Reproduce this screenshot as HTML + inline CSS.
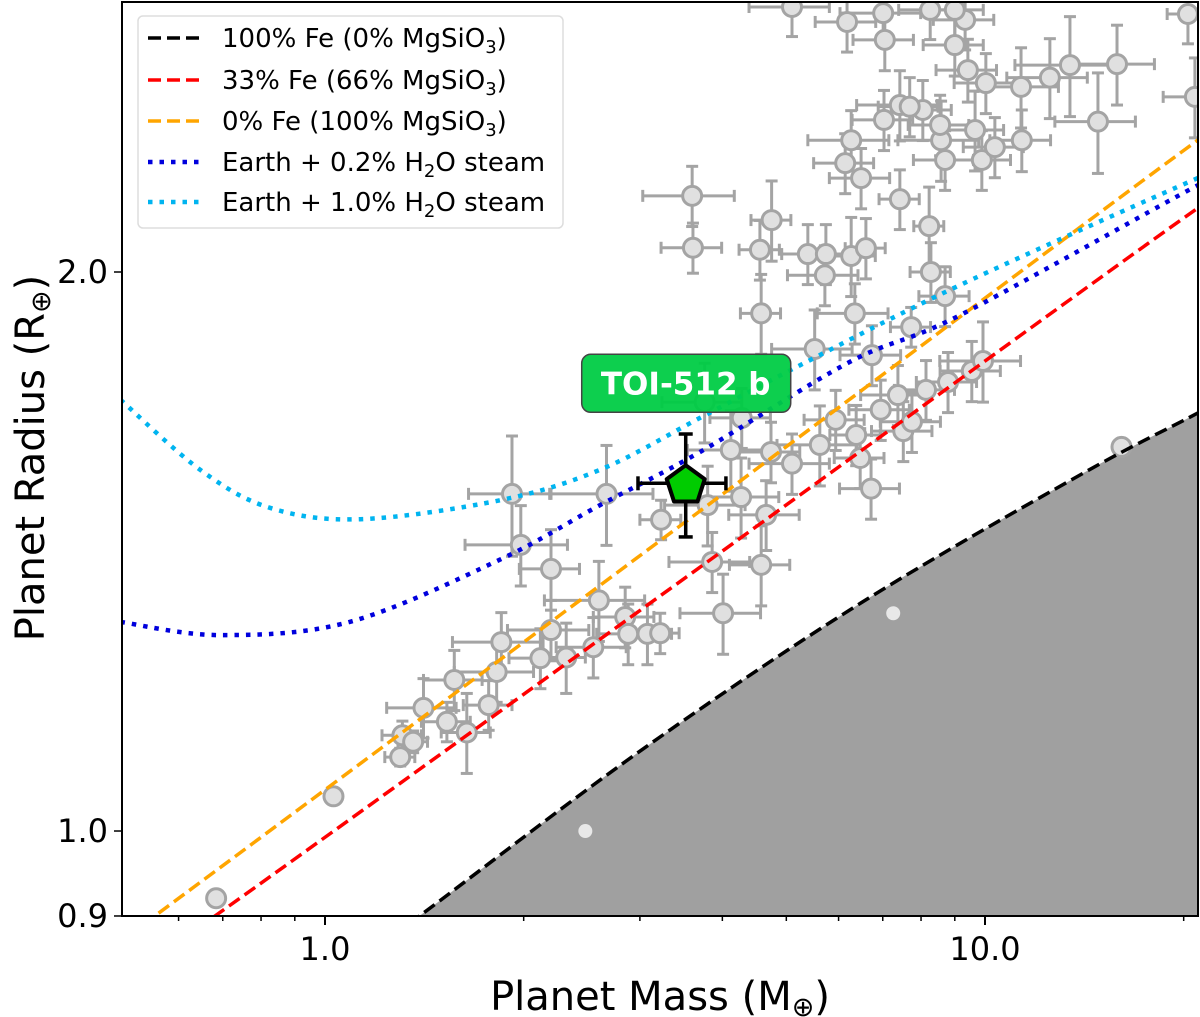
<!DOCTYPE html>
<html><head><meta charset="utf-8"><style>
html,body{margin:0;padding:0;background:#fff;}
svg{display:block;font-family:"DejaVu Sans","Liberation Sans",sans-serif;}
</style></head><body>
<svg id="chart" width="1200" height="1017" viewBox="0 0 1200 1017" xmlns="http://www.w3.org/2000/svg">
<defs><clipPath id="plotclip"><rect x="122" y="2" width="1076" height="914"/></clipPath></defs>
<g id="plot" clip-path="url(#plotclip)"></g>
<rect x="122" y="2" width="1076" height="914" fill="none" stroke="#000" stroke-width="2"/>
<g id="axes"></g>
<text x="660" y="1010" font-size="40" text-anchor="middle">Planet Mass (M<tspan font-size="27" dy="6">⊕</tspan><tspan dy="-6">)</tspan></text>
<text transform="translate(44,458) rotate(-90)" font-size="40" text-anchor="middle">Planet Radius (R<tspan font-size="27" dy="6">⊕</tspan><tspan dy="-6">)</tspan></text>
<g>
<rect x="138" y="16" width="425" height="212" rx="5" fill="#fff" fill-opacity="0.85" stroke="#ddd" stroke-width="1.5"/>
<g><line x1="148" y1="38" x2="200" y2="38" stroke="#000" stroke-width="3.5" stroke-dasharray="13,6"/><text x="222" y="47" font-size="26">100% Fe (0% MgSiO<tspan font-size="18" dy="6">3</tspan><tspan dy="-6">)</tspan></text></g>
<g><line x1="148" y1="80" x2="200" y2="80" stroke="#f00" stroke-width="3.5" stroke-dasharray="13,6"/><text x="222" y="89" font-size="26">33% Fe (66% MgSiO<tspan font-size="18" dy="6">3</tspan><tspan dy="-6">)</tspan></text></g>
<g><line x1="148" y1="121" x2="200" y2="121" stroke="#ffa500" stroke-width="3.5" stroke-dasharray="13,6"/><text x="222" y="130" font-size="26">0% Fe (100% MgSiO<tspan font-size="18" dy="6">3</tspan><tspan dy="-6">)</tspan></text></g>
<g><line x1="148" y1="162" x2="200" y2="162" stroke="#0000dd" stroke-width="4.5" stroke-dasharray="4.5,7"/><text x="222" y="171" font-size="26">Earth + 0.2% H<tspan font-size="18" dy="6">2</tspan><tspan dy="-6">O steam</tspan></text></g>
<g><line x1="148" y1="202" x2="200" y2="202" stroke="#00b4f0" stroke-width="4.5" stroke-dasharray="4.5,7"/><text x="222" y="211" font-size="26">Earth + 1.0% H<tspan font-size="18" dy="6">2</tspan><tspan dy="-6">O steam</tspan></text></g>
</g>
</svg>
<script>
// ---- data ----
const ironMass = [1.2, 1.39, 3.0, 6.47, 13.93, 21.0, 25];
const ironRadius = [0.869, 0.9, 1.104, 1.326, 1.555, 1.679, 1.739];
const fe33Mass = [0.6, 0.681, 3.70, 21.0, 25];
const fe33Radius = [0.878, 0.9, 1.387, 2.165, 2.24];
const fe0Mass = [0.5, 0.552, 3.70, 21.0, 25];
const fe0Radius = [0.88, 0.9, 1.487, 2.355, 2.44];
const steam02Mass = [0.49, 0.693, 1.09, 1.84, 2.61, 3.70, 6.24, 9.17, 21.0, 25];
const steam02Radius = [1.296, 1.275, 1.296, 1.40, 1.498, 1.60, 1.789, 1.896, 2.227, 2.29];
const steam10Mass = [0.49, 0.647, 0.825, 1.13, 1.84, 2.61, 3.70, 5.25, 9.17, 21.0, 25];
const steam10Radius = [1.707, 1.565, 1.493, 1.472, 1.507, 1.565, 1.669, 1.782, 1.968, 2.247, 2.30];
const obsMass = [0.684,1.03,16.1,1.30,1.31,1.36,1.41,1.53,1.57,1.64,1.77,1.82,1.85,2.12,2.20,2.32,2.55,2.60,2.85,2.88,3.08,3.22,4.01,3.86,4.58,2.20,1.98,1.92,2.67,3.23,3.80,4.27,4.66,5.10,4.74,5.62,5.94,6.38,6.47,6.72,6.95,7.38,7.52,7.75,8.14,8.79,9.55,9.93,4.12,3.76,4.28,3.60,3.61,4.56,4.75,5.39,5.74,5.72,6.27,6.60,6.35,4.58,5.52,6.74,7.73,8.23,8.28,8.70,7.43,6.49,6.14,6.27,7.43,8.58,8.70,8.05,9.66,9.89,10.35,11.34,12.54,14.83,13.45,15.85,20.8,20.3,10.03,9.33,9.0,8.26,7.01,6.18,5.10,7.05,7.69,8.55,9.42,9.0,7.03,11.37];
const obsRadius = [0.920,1.044,1.61,1.096,1.126,1.117,1.165,1.145,1.206,1.13,1.169,1.218,1.264,1.239,1.283,1.24,1.256,1.331,1.304,1.277,1.277,1.278,1.31,1.396,1.391,1.384,1.426,1.519,1.519,1.471,1.498,1.513,1.48,1.577,1.60,1.614,1.665,1.634,1.588,1.529,1.686,1.717,1.642,1.661,1.728,1.745,1.769,1.791,1.604,1.702,1.669,2.198,2.061,2.056,2.133,2.045,2.045,1.992,2.04,2.06,1.90,1.90,1.818,1.804,1.868,2.117,2.0,1.941,2.189,2.247,2.289,2.355,2.46,2.355,2.298,2.445,2.385,2.298,2.335,2.516,2.545,2.41,2.585,2.588,2.485,2.754,2.528,2.734,2.768,2.768,2.757,2.727,2.778,2.667,2.455,2.40,2.569,2.65,2.415,2.355];
const obsMassErr = [0,0,0,.068,.09,.07,.17,.13,.16,.14,.15,.25,.29,.22,.31,.16,.31,.45,.30,.30,.27,.22,.56,.54,.48,.23,.35,.27,.47,.23,.53,.60,.57,.71,.50,.78,.62,.56,.56,.70,.73,.90,.79,.81,.85,.92,1.0,1.39,.58,.52,.45,.57,.38,.32,.33,.47,.40,.70,.55,.46,.78,.32,.77,.71,.54,.43,.58,.76,.52,.68,.64,.88,1.04,1.2,.91,.84,1.01,1.04,1.08,1.58,1.75,2.07,2.35,2.21,2.18,1.42,1.05,.98,.94,.86,.98,.65,.71,.74,.8,.9,.99,.94,.74,1.2];
const obsRadiusErr = [0,0,0,.012,.02,.015,.043,.028,.045,.056,.036,.045,.047,.046,.048,.054,.047,.066,.049,.048,.048,.032,.065,.052,.069,.069,.071,.113,.094,.036,.074,.075,.064,.059,.06,.08,.062,.061,.059,.057,.063,.064,.061,.062,.064,.065,.066,.089,.08,.084,.062,.082,.064,.076,.106,.076,.076,.074,.10,.077,.071,.094,.09,.067,.046,.105,.074,.072,.081,.084,.085,.088,.107,.117,.085,.091,.118,.085,.087,.125,.126,.15,.16,.128,.123,.10,.094,.10,.10,.1,.10,.10,.10,.1,.09,.09,.1,.1,.09,.09];
const hiddenMass = [2.48, 7.26];
const hiddenRadius = [1.0, 1.31];
const toiMass = [3.52]; const toiMassLo = [2.98]; const toiMassHi = [4.05];
const toiRadius = [1.539]; const toiRadiusLo = [1.44]; const toiRadiusHi = [1.636];
const xTickValues = [1, 10]; const xTickLabels = ["1.0", "10.0"];
const xMinorTicks = [0.6,0.7,0.8,0.9,2,3,4,5,6,7,8,9,20];
const yTickValues = [0.9, 1.0, 2.0]; const yTickLabels = ["0.9", "1.0", "2.0"];

// ---- axes ----
const X0 = 325, XDEC = 660, Y2 = 272, YDEC = 1857;
function xs(m){ return X0 + Math.log10(m) * XDEC; }
function ys(r){ return Y2 - (Math.log10(r) - Math.log10(2)) * YDEC; }
const NS = "http://www.w3.org/2000/svg";
function mk(tag, attrs, parent){ const e = document.createElementNS(NS, tag); for (const k in attrs) e.setAttribute(k, attrs[k]); parent.appendChild(e); return e; }
const plot = document.getElementById('plot');
const axes = document.getElementById('axes');
function pathOf(ms, rs){
  const P = ms.map((m,i)=>[xs(m), ys(rs[i])]);
  let d = 'M' + P[0][0].toFixed(1) + ',' + P[0][1].toFixed(1);
  for (let i=0;i<P.length-1;i++){
    const p0 = P[Math.max(i-1,0)], p1 = P[i], p2 = P[i+1], p3 = P[Math.min(i+2,P.length-1)];
    const c1 = [p1[0]+(p2[0]-p0[0])/6, p1[1]+(p2[1]-p0[1])/6];
    const c2 = [p2[0]-(p3[0]-p1[0])/6, p2[1]-(p3[1]-p1[1])/6];
    d += ' C' + c1[0].toFixed(1)+','+c1[1].toFixed(1)+' '+c2[0].toFixed(1)+','+c2[1].toFixed(1)+' '+p2[0].toFixed(1)+','+p2[1].toFixed(1);
  }
  return d;
}

let reg = mk('path', {d: pathOf(ironMass, ironRadius) + ' L' + xs(ironMass[ironMass.length-1]) + ',1000 L' + xs(ironMass[0]) + ',1000 Z', fill: '#a0a0a0'}, plot);



hiddenMass.forEach((m,i)=>{
  const c = mk('circle', {cx: xs(m), cy: ys(hiddenRadius[i]), r: 7, fill: '#e8e8e8'}, plot);
  
  
});

const curves = [
  [fe0Mass, fe0Radius, '#ffa500', '13,6', 3.5, 'curve-fe0'],
  [fe33Mass, fe33Radius, '#f00', '13,6', 3.5, 'curve-fe33'],
  [steam02Mass, steam02Radius, '#0000dd', '4.5,7', 4.5, 'curve-steam02'],
  [steam10Mass, steam10Radius, '#00b4f0', '4.5,7', 4.5, 'curve-steam10']
];

const gPts = mk('g', {}, plot);


obsMass.forEach((m,i)=>{
  const cx = xs(m), cy = ys(obsRadius[i]);
  const g = mk('g', {stroke: '#a4a4a4', 'stroke-width': 3, fill: 'none'}, gPts);
  
  
  const me = obsMassErr[i], re = obsRadiusErr[i];
  if (me > 0){
    const x1 = xs(Math.max(m - me, 0.01)), x2 = xs(m + me);
    mk('line', {x1: x1, y1: cy, x2: x2, y2: cy}, g);
    mk('line', {x1: x1, y1: cy-6, x2: x1, y2: cy+6}, g);
    mk('line', {x1: x2, y1: cy-6, x2: x2, y2: cy+6}, g);
  }
  if (re > 0){
    const y1 = ys(obsRadius[i] - re), y2 = ys(obsRadius[i] + re);
    mk('line', {x1: cx, y1: y1, x2: cx, y2: y2}, g);
    mk('line', {x1: cx-6, y1: y1, x2: cx+6, y2: y1}, g);
    mk('line', {x1: cx-6, y1: y2, x2: cx+6, y2: y2}, g);
  }
});
obsMass.forEach((m,i)=>{
  const c = mk('circle', {cx: xs(m), cy: ys(obsRadius[i]), r: 9.5, fill: '#e0e0e0', stroke: '#a4a4a4', 'stroke-width': 3}, gPts);
  
  
});

curves.forEach(c=>{
  const p = mk('path', {d: pathOf(c[0], c[1]), fill: 'none', stroke: c[2], 'stroke-width': c[4], 'stroke-dasharray': c[3]}, plot);
  
  
});
const ironLine = mk('path', {d: pathOf(ironMass, ironRadius), fill: 'none', stroke: '#000', 'stroke-width': 3.5, 'stroke-dasharray': '13,6'}, plot);



const tg = mk('g', {}, plot);


{
  const cx = xs(toiMass[0]), cy = ys(toiRadius[0]);
  const xl = xs(toiMassLo[0]), xh = xs(toiMassHi[0]), yl = ys(toiRadiusLo[0]), yh = ys(toiRadiusHi[0]);
  const eg = mk('g', {stroke: '#000', 'stroke-width': 3.5}, tg);
  mk('line', {x1: xl, y1: cy, x2: xh, y2: cy}, eg);
  mk('line', {x1: xl, y1: cy-7, x2: xl, y2: cy+7}, eg);
  mk('line', {x1: xh, y1: cy-7, x2: xh, y2: cy+7}, eg);
  mk('line', {x1: cx, y1: yl, x2: cx, y2: yh}, eg);
  mk('line', {x1: cx-7, y1: yl, x2: cx+7, y2: yl}, eg);
  mk('line', {x1: cx-7, y1: yh, x2: cx+7, y2: yh}, eg);
  const R = 20; let pts = [];
  for (let k=0;k<5;k++){ const a = -Math.PI/2 + k*2*Math.PI/5; pts.push((cx+R*Math.cos(a)).toFixed(1)+','+(cy+R*Math.sin(a)+2).toFixed(1)); }
  mk('polygon', {points: pts.join(' '), fill: '#00cc00', stroke: '#000', 'stroke-width': 4, 'stroke-linejoin': 'round'}, tg);
  const lb = mk('g', {}, tg);
  
  
  mk('rect', {x: cx-104, y: cy-129, width: 209, height: 58, rx: 9, fill: '#00cc44', 'fill-opacity': 0.95, stroke: '#444', 'stroke-width': 1.5}, lb);
  const t = mk('text', {x: cx, y: cy-89, 'font-size': 31, 'font-weight': 'bold', fill: '#fff', 'text-anchor': 'middle'}, lb);
  t.textContent = 'TOI-512 b';
}

xTickValues.forEach((v,i)=>{
  const x = xs(v);
  const l = mk('line', {x1: x, y1: 916, x2: x, y2: 925, stroke: '#000', 'stroke-width': 2}, axes);
  
  
  const t = mk('text', {x: x, y: 960, 'font-size': 32, 'text-anchor': 'middle'}, axes);
  
  
  t.textContent = xTickLabels[i];
});
xMinorTicks.forEach(v=>{
  const x = xs(v);
  if (x < 122 || x > 1198) return;
  const l = mk('line', {x1: x, y1: 916, x2: x, y2: 921, stroke: '#000', 'stroke-width': 1.5}, axes);
  
  
});
yTickValues.forEach((v,i)=>{
  const y = ys(v);
  const l = mk('line', {x1: 114, y1: y, x2: 122, y2: y, stroke: '#000', 'stroke-width': 1.5}, axes);
  
  
  const t = mk('text', {x: 108, y: y + 11, 'font-size': 32, 'text-anchor': 'end'}, axes);
  
  
  t.textContent = yTickLabels[i];
});
</script>
</body></html>
